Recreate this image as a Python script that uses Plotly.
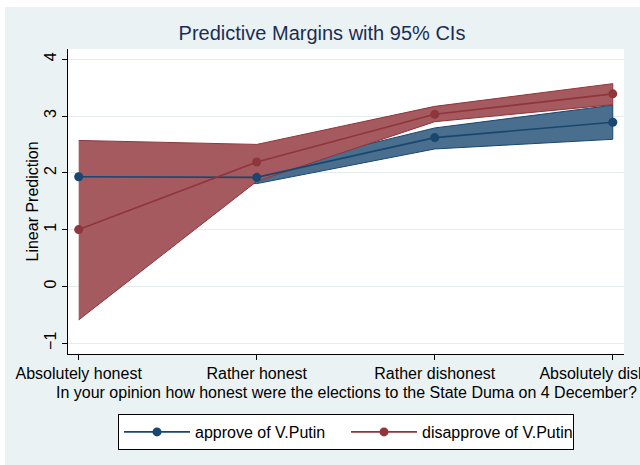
import plotly.graph_objects as go

categories = ["Absolutely honest", "Rather honest", "Rather dishonest", "Absolutely dishonest"]
xpos = [1, 2, 3, 4]

approve = [1.93, 1.92, 2.62, 2.89]
approve_lo = [1.86, 1.81, 2.42, 2.59]
approve_hi = [2.00, 2.03, 2.79, 3.19]

disapprove = [1.00, 2.19, 3.03, 3.39]
disapprove_lo = [-0.59, 1.85, 2.90, 3.20]
disapprove_hi = [2.57, 2.50, 3.17, 3.57]

yticks = [-1, 0, 1, 2, 3, 4]

NAVY = "#1a476f"
MAROON = "#90353b"
NAVY_FILL = "#496e8e"
MAROON_FILL = "#a45a5f"
BG = "#eaf2f3"
FONT = "Liberation Sans, Arial, sans-serif"
FS = 16

fig = go.Figure()

# CI areas
fig.add_trace(go.Scatter(
    x=xpos + xpos[::-1], y=approve_hi + approve_lo[::-1],
    fill="toself", fillcolor=NAVY_FILL, mode="lines",
    line=dict(color=NAVY, width=1), showlegend=False, hoverinfo="skip"))
fig.add_trace(go.Scatter(
    x=xpos + xpos[::-1], y=disapprove_hi + disapprove_lo[::-1],
    fill="toself", fillcolor=MAROON_FILL, mode="lines",
    line=dict(color=MAROON, width=1), showlegend=False, hoverinfo="skip"))

# lines
fig.add_trace(go.Scatter(
    x=xpos, y=approve, mode="lines+markers", name="approve of V.Putin",
    line=dict(color=NAVY, width=1.6), marker=dict(color=NAVY, size=9)))
fig.add_trace(go.Scatter(
    x=xpos, y=disapprove, mode="lines+markers", name="disapprove of V.Putin",
    line=dict(color=MAROON, width=1.6), marker=dict(color=MAROON, size=9)))

W, H = 640, 465
L, R, T, B = 68, 16, 49, 111
pw, ph = W - L - R, H - T - B

def px_x(x):
    return (x - L) / pw

def px_y(y):
    return (H - B - y) / ph

shapes = [
    # white outer border strips
    dict(type="rect", xref="paper", yref="paper", x0=px_x(0), x1=px_x(5), y0=px_y(0), y1=px_y(H),
         fillcolor="white", line=dict(width=0), layer="below"),
    dict(type="rect", xref="paper", yref="paper", x0=px_x(0), x1=px_x(W), y0=px_y(0), y1=px_y(7),
         fillcolor="white", line=dict(width=0), layer="below"),
]

fig.update_layout(
    width=W, height=H,
    margin=dict(l=L, r=R, t=T, b=B, autoexpand=False),
    paper_bgcolor=BG, plot_bgcolor="white",
    font=dict(family=FONT, size=FS, color="black"),
    title=dict(text="Predictive Margins with 95% CIs", x=322 / W, xanchor="center",
               xref="container", y=1 - 33 / H, yref="container", yanchor="middle",
               font=dict(size=20, color="#1c2d55", family=FONT)),
    xaxis=dict(range=[0.94, 4.063], tickmode="array", tickvals=xpos, ticktext=categories,
               showgrid=False, zeroline=False, showline=True, linecolor="black", linewidth=1,
               ticks="outside", ticklen=5, tickcolor="black", tickfont=dict(size=FS),
               ticklabeloverflow="allow"),
    yaxis=dict(range=[-1.19, 4.18], tickmode="array", tickvals=yticks,
               ticktext=["\u22121", "0", "1", "2", "3", "4"],
               showgrid=True, gridcolor="#e4ecee", gridwidth=1, zeroline=False,
               showline=True, linecolor="black", linewidth=1,
               ticks="outside", ticklen=5, tickcolor="black", tickangle=-90,
               tickfont=dict(size=FS)),
    legend=dict(orientation="h", x=0.5, xanchor="center", y=px_y(432), yanchor="middle",
                bgcolor="white", bordercolor="black", borderwidth=1,
                font=dict(size=FS), itemwidth=66, entrywidth=146, entrywidthmode="pixels"),
    shapes=shapes,
    annotations=[
        dict(text="Linear Prediction", xref="paper", yref="paper", x=px_x(32), y=0.5,
             xanchor="center", yanchor="middle", textangle=-90, showarrow=False,
             font=dict(size=FS)),
        dict(text="In your opinion how honest were the elections to the State Duma on 4 December?",
             xref="paper", yref="paper", x=0.5, y=px_y(392), xanchor="center", yanchor="middle",
             showarrow=False, font=dict(size=FS)),
    ],
)

fig.write_html("out.html", config={"displayModeBar": False},
               post_script="document.body.style.margin='0px';")
